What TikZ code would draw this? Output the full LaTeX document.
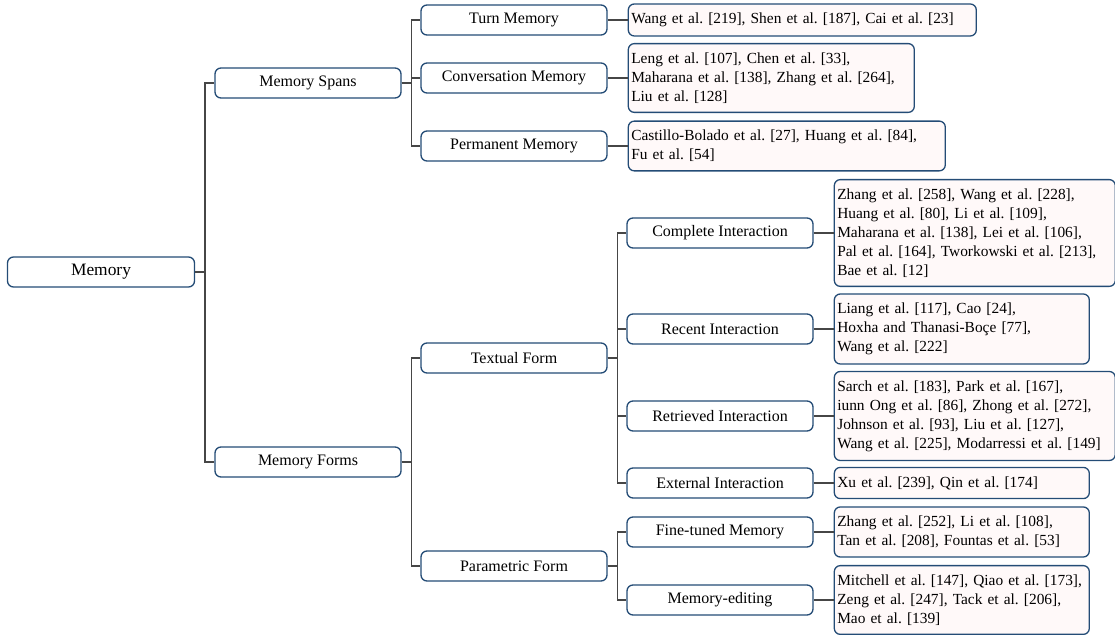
\documentclass[tikz,border=0pt]{standalone}
\usepackage{fontspec}
\setmainfont{Liberation Serif}
\usepackage{xcolor}
\usetikzlibrary{positioning}
\frenchspacing

\definecolor{boxblue}{RGB}{36,76,118}
\definecolor{litpink}{RGB}{255,249,249}
\definecolor{edgegray}{RGB}{70,70,70}

\begin{document}
\begin{tikzpicture}[x=0.5pt, y=-0.5pt,
  cat/.style={draw=boxblue, line width=0.65pt, rounded corners=3pt, fill=white, minimum width=93pt, minimum height=15pt, inner sep=1pt, font=\fontsize{8}{9.5}\selectfont},
  lit/.style={draw=boxblue, line width=0.65pt, rounded corners=3pt, fill=litpink, align=left, inner xsep=1.5pt, inner ysep=4.5pt, font=\fontsize{7.7}{9.5}\selectfont},
  edge/.style={draw=edgegray, line width=0.75pt}]
  \useasboundingbox (0,0) rectangle (1115,635);

  % categories
  \node[cat, minimum width=93.5pt, font=\fontsize{8.7}{10}\selectfont] (root) at (101,272) {Memory};
  \node[cat] (spans) at (308,83) {Memory Spans};
  \node[cat] (forms) at (308,462) {Memory Forms};
  \node[cat] (turn) at (514,20) {Turn Memory};
  \node[cat] (conv) at (514,78) {Conversation Memory};
  \node[cat] (perm) at (514,146) {Permanent Memory};
  \node[cat] (textual) at (514,358) {Textual Form};
  \node[cat] (param) at (514,566) {Parametric Form};
  \node[cat] (complete) at (720,233) {Complete Interaction};
  \node[cat] (recent) at (720,329) {Recent Interaction};
  \node[cat] (retrieved) at (720,416) {Retrieved Interaction};
  \node[cat] (external) at (720,483) {External Interaction};
  \node[cat] (fine) at (720,532) {Fine-tuned Memory};
  \node[cat] (editing) at (720,600) {Memory-editing};

  % literature
  \node[lit, text width=171pt, right=10pt of turn] (turn-lit) {Wang et al. [219], Shen et al. [187], Cai et al. [23]};
  \node[lit, text width=140pt, right=10pt of conv] (conv-lit) {Leng et al. [107], Chen et al. [33],\\Maharana et al. [138], Zhang et al. [264],\\Liu et al. [128]};
  \node[lit, text width=155.5pt, right=10pt of perm] (perm-lit) {Castillo-Bolado et al. [27], Huang et al. [84],\\Fu et al. [54]};
  \node[lit, text width=137.5pt, right=10pt of complete] (complete-lit) {Zhang et al. [258], Wang et al. [228],\\Huang et al. [80], Li et al. [109],\\Maharana et al. [138], Lei et al. [106],\\Pal et al. [164], Tworkowski et al. [213],\\Bae et al. [12]};
  \node[lit, text width=124.5pt, right=10pt of recent] (recent-lit) {Liang et al. [117], Cao [24],\\Hoxha and Thanasi-Boçe [77],\\Wang et al. [222]};
  \node[lit, text width=137.5pt, right=10pt of retrieved] (retrieved-lit) {Sarch et al. [183], Park et al. [167],\\iunn Ong et al. [86], Zhong et al. [272],\\Johnson et al. [93], Liu et al. [127],\\Wang et al. [225], Modarressi et al. [149]};
  \node[lit, text width=124.5pt, right=10pt of external] (external-lit) {Xu et al. [239], Qin et al. [174]};
  \node[lit, text width=124.5pt, right=10pt of fine] (fine-lit) {Zhang et al. [252], Li et al. [108],\\Tan et al. [208], Fountas et al. [53]};
  \node[lit, text width=124.5pt, right=10pt of editing] (editing-lit) {Mitchell et al. [147], Qiao et al. [173],\\Zeng et al. [247], Tack et al. [206],\\Mao et al. [139]};

  % connectors
  \foreach \p/\c in {root/spans, root/forms, spans/turn, spans/conv, spans/perm, forms/textual, forms/param,
      textual/complete, textual/recent, textual/retrieved, textual/external, param/fine, param/editing}
    \draw[edge] (\p.east) -- ++(10,0) |- (\c.west);
  \foreach \n in {turn, conv, perm, complete, recent, retrieved, external, fine, editing}
    \draw[edge] (\n.east) -- (\n-lit.west);
\end{tikzpicture}
\end{document}
